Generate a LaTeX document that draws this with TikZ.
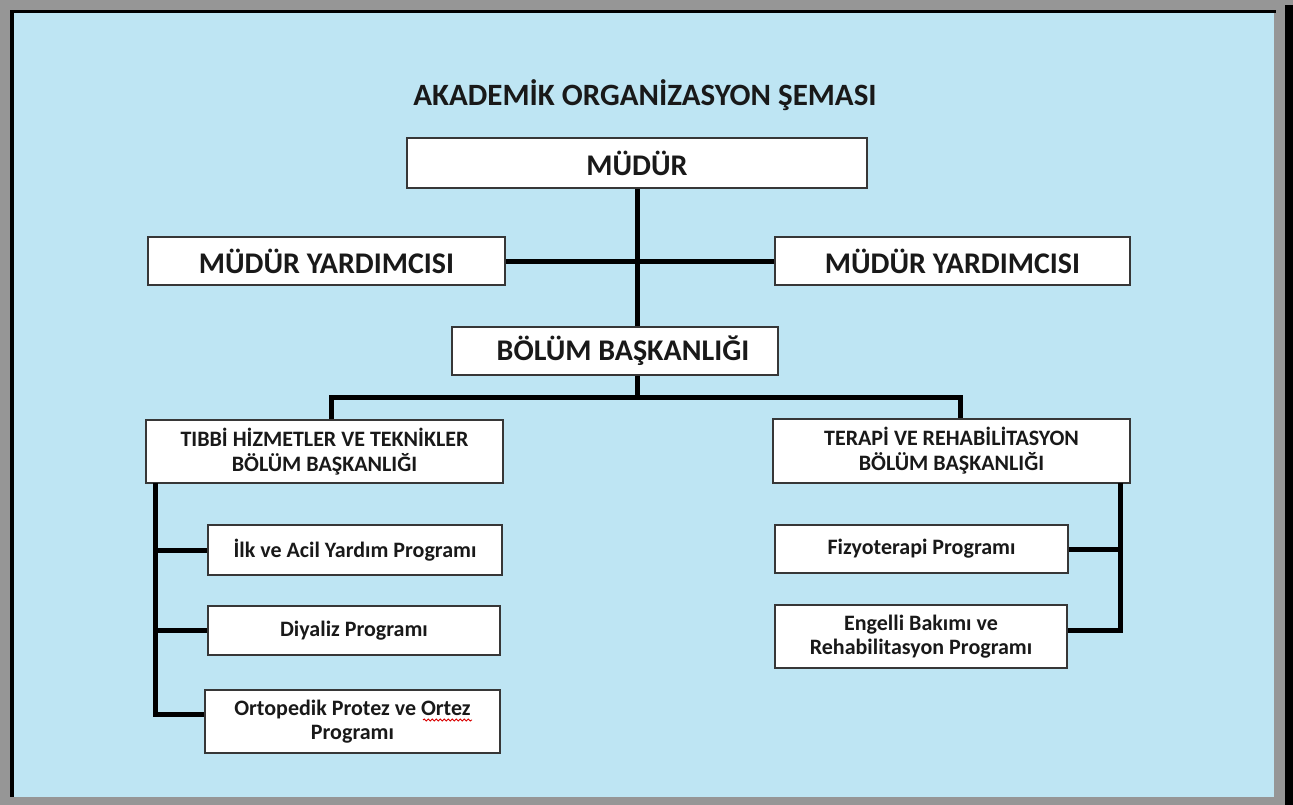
\documentclass[tikz,border=0pt]{standalone}
\usepackage{fontspec}
\setmainfont{Carlito}
\usetikzlibrary{decorations.pathmorphing}
\definecolor{panelblue}{RGB}{190,229,243}
\definecolor{framegray}{RGB}{150,150,150}
\definecolor{boxline}{RGB}{55,55,55}
\definecolor{inktext}{RGB}{25,25,25}
\tikzset{
  orgbox/.style={draw=boxline, line width=1.8pt, fill=white, inner sep=0pt,
    align=center, text=inktext, font=\bfseries},
  conn/.style={line width=5pt, black},
  bigtxt/.style={font=\bfseries\fontsize{30}{34}\selectfont},
  midtxt/.style={font=\bfseries\fontsize{22}{25}\selectfont},
  smalltxt/.style={font=\bfseries\fontsize{22}{24}\selectfont},
}
\begin{document}
\begin{tikzpicture}[x=1pt,y=-1pt]
\useasboundingbox (0,0) rectangle (1293,805);
% frame
\fill[framegray] (0,0) rectangle (1293,805);
\fill[panelblue] (12,12) rectangle (1274,797);
\fill[black] (10,10) rectangle (1276,13.5);
\fill[black] (10,10) rectangle (14,797);
\fill[black] (1285,5) rectangle (1293,805);
% title
\node[text=inktext, font=\bfseries\fontsize{31}{34}\selectfont] (title) at (645,95) {AKADEMİK ORGANİZASYON ŞEMASI};
% boxes
\node[orgbox, bigtxt, minimum width=460pt, minimum height=50pt] (mudur) at (637,163) {MÜDÜR};
\node[orgbox, bigtxt, minimum width=357pt, minimum height=48pt] (myl) at (326.5,261) {MÜDÜR YARDIMCISI};
\node[orgbox, bigtxt, minimum width=355pt, minimum height=48pt] (myr) at (952.5,261) {MÜDÜR YARDIMCISI};
\node[orgbox, bigtxt, minimum width=326pt, minimum height=48pt] (bb) at (615,351) {\hspace*{16pt}BÖLÜM BAŞKANLIĞI};
\node[orgbox, midtxt, minimum width=357pt, minimum height=63pt] (tibbi) at (324.5,451.5) {TIBBİ HİZMETLER VE TEKNİKLER\\BÖLÜM BAŞKANLIĞI};
\node[orgbox, midtxt, minimum width=357pt, minimum height=64pt] (terapi) at (951.5,451) {TERAPİ VE REHABİLİTASYON\\BÖLÜM BAŞKANLIĞI};
\node[orgbox, smalltxt, minimum width=294pt, minimum height=50pt] (ilk) at (355,550) {İlk ve Acil Yardım Programı};
\node[orgbox, smalltxt, minimum width=292pt, minimum height=49pt] (diy) at (354,630.5) {Diyaliz Programı};
\node[orgbox, smalltxt, minimum width=295pt, minimum height=63pt] (orto) at (352.5,721.5) {Ortopedik Protez ve Ortez\\Programı};
\node[orgbox, smalltxt, minimum width=293pt, minimum height=48pt] (fizyo) at (921.5,549) {Fizyoterapi Programı};
\node[orgbox, smalltxt, minimum width=292pt, minimum height=63pt] (engel) at (921,636.5) {Engelli Bakımı ve\\Rehabilitasyon Programı};
% spell-check squiggle
\draw[red!85!black, line width=0.9pt, decorate, decoration={snake, amplitude=1pt, segment length=4pt}] (423,720) -- (472,720);
% connectors
\draw[conn] (mudur.south) -- (mudur.south |- bb.north);
\draw[conn] (myl.east) -- (myr.west);
\coordinate (bj) at (637,397);
\draw[conn] (mudur.south |- bb.south) -- (bj);
\draw[conn] ([xshift=6.5pt]tibbi.north) |- (bj) -| ([xshift=8.5pt]terapi.north);
\coordinate (lb) at (155,483);
\draw[conn] (lb) |- ([yshift=7pt]orto.west);
\draw[conn] (lb |- ilk.west) -- (ilk.west);
\draw[conn] (lb |- diy.west) -- (diy.west);
\coordinate (rb) at (1120,483);
\draw[conn] (rb) |- ([yshift=6.5pt]engel.east);
\draw[conn] (rb |- fizyo.east) -- (fizyo.east);
\end{tikzpicture}
\end{document}
